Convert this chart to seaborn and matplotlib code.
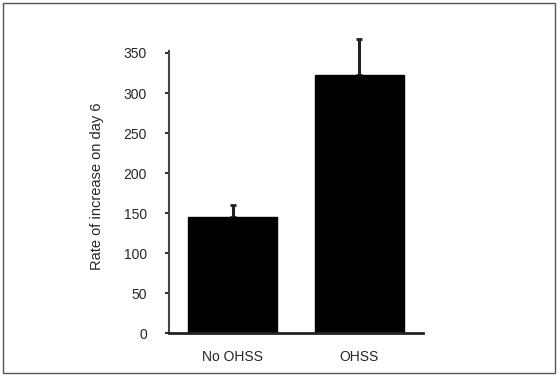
import matplotlib
matplotlib.use("Agg")
import matplotlib.pyplot as plt
import seaborn as sns
import pandas as pd
from matplotlib.patches import Rectangle

categories = ["No OHSS", "OHSS"]
means = [145, 323]
upper_err = [15, 45]
yticks = [0, 50, 100, 150, 200, 250, 300, 350]

sns.set_style("white")
plt.rcParams["font.family"] = ["Liberation Sans", "DejaVu Sans"]

fig = plt.figure(figsize=(5.6, 3.79), dpi=100)
ax = fig.add_axes([0.302, 0.121, 0.453, 0.773])

df = pd.DataFrame({"group": categories, "value": means})
sns.barplot(data=df, x="group", y="value", color="black", width=0.7,
            edgecolor="black", saturation=1, errorbar=None, ax=ax)
xs = list(range(len(categories)))
ax.errorbar(xs, means, yerr=[[0] * len(means), upper_err], fmt="none",
            ecolor="#222222", elinewidth=2.2, capsize=2, capthick=2, zorder=0,
            clip_on=False)

ax.set_xlim(-0.5, 1.5)
ax.set_ylim(0, 366)
ax.set_yticks(yticks)
ax.set_yticklabels([str(t) for t in yticks], fontsize=10)
ax.set_xticks(xs)
ax.set_xticklabels(categories, fontsize=10)
ax.set_xlabel("")
ax.set_ylabel("Rate of increase on day 6", fontsize=10.5, labelpad=14)
ax.tick_params(axis="y", direction="out", length=3, width=1.5, color="#333333", pad=13, left=True)
ax.tick_params(axis="x", length=0, pad=12)
for s in ["top", "right"]:
    ax.spines[s].set_visible(False)
ax.spines["left"].set_color("#444444")
ax.spines["left"].set_linewidth(1.5)
ax.spines["left"].set_bounds(0, 352)
ax.spines["bottom"].set_color("#222222")
ax.spines["bottom"].set_linewidth(2)

fig.patches.append(Rectangle((3 / 560, 6 / 379), 552 / 560, 370 / 379,
                             transform=fig.transFigure, fill=False,
                             edgecolor="#555555", linewidth=1))

fig.savefig("out.png", dpi=100)
